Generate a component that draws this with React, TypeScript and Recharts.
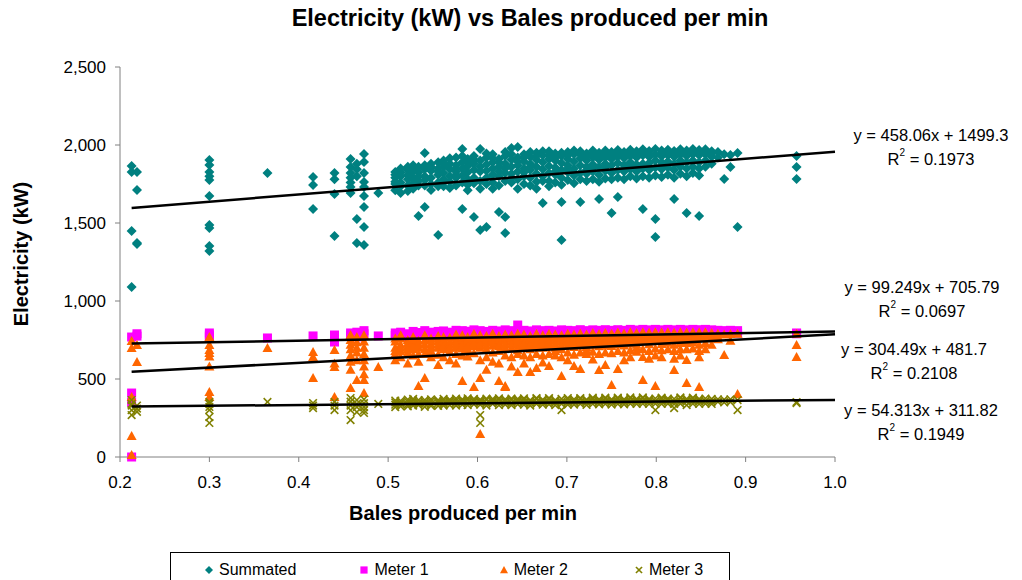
import React from 'react';
import { ScatterChart, Scatter, XAxis, YAxis, LabelList } from 'recharts';

const FONT = "'Liberation Sans', Arial, sans-serif";

// one entry per column of readings (bales produced per min)
const balesPerMin = [
  0.213, 0.219, 0.3, 0.365, 0.416, 0.44, 0.458, 0.465, 0.473, 0.489,
  0.508, 0.514, 0.522, 0.528, 0.534, 0.541, 0.548, 0.556, 0.562, 0.569,
  0.576, 0.583, 0.589, 0.596, 0.603, 0.61, 0.617, 0.624, 0.631, 0.638,
  0.645, 0.652, 0.659, 0.666, 0.673, 0.68, 0.687, 0.694, 0.701, 0.708,
  0.715, 0.722, 0.729, 0.736, 0.743, 0.75, 0.757, 0.764, 0.771, 0.778,
  0.785, 0.792, 0.799, 0.806, 0.813, 0.82, 0.827, 0.834, 0.841, 0.848,
  0.855, 0.862, 0.869, 0.876, 0.883, 0.891, 0.957,
];

// electricity readings (kW) for each column above
const summatedKW: number[][] = [
  [1865, 1827, 1449, 1090], [1827, 1711, 1372, 1365],
  [1904, 1872, 1827, 1800, 1775, 1673, 1487, 1468, 1353, 1321], [1820],
  [1795, 1744, 1590], [1820, 1780, 1686, 1417], [1910, 1859, 1820, 1790, 1760, 1730, 1692],
  [1880, 1845, 1800, 1526, 1372], [1942, 1891, 1820, 1763, 1731, 1673, 1603, 1474, 1359], [1692],
  [1827, 1790, 1750, 1710, 1810, 1765], [1850, 1800, 1760, 1692, 1825, 1735],
  [1840, 1810, 1780, 1740, 1860, 1705], [1870, 1830, 1790, 1755, 1720, 1850],
  [1860, 1825, 1545, 1770, 1800, 1740], [1949, 1845, 1800, 1603, 1740, 1870, 1775],
  [1880, 1835, 1790, 1750, 1860, 1712], [1890, 1850, 1810, 1760, 1423, 1830, 1735],
  [1900, 1860, 1820, 1780, 1735, 1880], [1880, 1845, 1800, 1765, 1915, 1725],
  [1920, 1870, 1830, 1790, 1740, 1850, 1810], [1974, 1890, 1850, 1805, 1590, 1930, 1760],
  [1910, 1865, 1825, 1780, 1745, 1890, 1710], [1930, 1880, 1840, 1538, 1790, 1905, 1755],
  [1974, 1900, 1860, 1455, 1770, 1720, 1830], [1920, 1875, 1835, 1474, 1790, 1945, 1750],
  [1940, 1890, 1850, 1810, 1760, 1915, 1720], [1910, 1860, 1570, 1800, 1740, 1890, 1830],
  [1930, 1880, 1436, 1538, 1820, 1770, 1955, 1850], [1980, 1905, 1860, 1815, 1760, 1940, 1790],
  [1987, 1920, 1870, 1830, 1780, 1720, 1895], [1940, 1895, 1850, 1800, 1750, 1920, 1825],
  [1925, 1880, 1840, 1790, 1740, 1955, 1860], [1950, 1905, 1860, 1815, 1765, 1930, 1720],
  [1935, 1890, 1845, 1800, 1628, 1960, 1770], [1960, 1910, 1865, 1820, 1770, 1935, 1735],
  [1945, 1900, 1855, 1810, 1760, 1920, 1830], [1930, 1885, 1840, 1635, 1391, 1790, 1950, 1745],
  [1955, 1910, 1870, 1825, 1775, 1935, 1850], [1940, 1895, 1850, 1805, 1755, 1965, 1825],
  [1960, 1915, 1870, 1635, 1820, 1940, 1780], [1945, 1900, 1860, 1815, 1770, 1925, 1840],
  [1965, 1920, 1875, 1830, 1780, 1945, 1850], [1950, 1905, 1860, 1654, 1810, 1930, 1765],
  [1965, 1920, 1880, 1835, 1785, 1945, 1855], [1955, 1910, 1870, 1564, 1820, 1935, 1780],
  [1968, 1925, 1885, 1667, 1840, 1790, 1945], [1955, 1915, 1870, 1830, 1780, 1935, 1850],
  [1970, 1930, 1890, 1845, 1800, 1950, 1865], [1960, 1920, 1875, 1830, 1785, 1940, 1855],
  [1972, 1935, 1590, 1850, 1800, 1955, 1880], [1962, 1925, 1885, 1840, 1790, 1945, 1860],
  [1975, 1938, 1526, 1410, 1855, 1805, 1900], [1965, 1928, 1890, 1845, 1795, 1948, 1870],
  [1970, 1935, 1895, 1855, 1810, 1952, 1875], [1962, 1925, 1654, 1840, 1790, 1945, 1880],
  [1972, 1938, 1900, 1860, 1815, 1955, 1880], [1965, 1930, 1564, 1850, 1800, 1948, 1890],
  [1975, 1940, 1900, 1860, 1820, 1958], [1968, 1935, 1545, 1850, 1805, 1950, 1890],
  [1972, 1940, 1900, 1860, 1955], [1960, 1925, 1880, 1945], [1955, 1920], [1940, 1782],
  [1936, 1859], [1949, 1474], [1930, 1859, 1782],
];

const meter1KW: number[][] = [
  [769, 410, 350, 0], [790, 775], [795, 782, 770], [763], [776], [782, 760, 737], [795, 780],
  [800, 770], [810, 790], [776],
  [795, 780], [800, 775], [790, 772], [805, 785], [798, 780], [810, 790], [800, 778], [805, 785],
  [808, 790], [800, 782], [812, 792], [810, 788], [806, 790], [815, 795], [810, 788], [805, 792],
  [812, 795], [808, 790], [815, 796], [810, 792], [846, 805, 788], [812, 795], [808, 790],
  [815, 798], [810, 792], [812, 795], [808, 790], [815, 797], [812, 795], [810, 792], [816, 798],
  [810, 795], [815, 798], [812, 795], [816, 798], [812, 796], [816, 800], [812, 796], [818, 800],
  [814, 797], [818, 800], [815, 798], [818, 800], [815, 798], [818, 800], [815, 797], [818, 800],
  [815, 798], [818, 800], [816, 798], [818, 800], [815, 798], [812, 796], [810, 795], [812, 796],
  [810, 794], [795, 790],
];

const meter2KW: number[][] = [
  [743, 699, 385, 135, 13], [718, 609], [770, 718, 686, 667, 645, 580, 417, 385], [699],
  [673, 641, 506], [686, 600, 577, 385], [782, 750, 720, 690, 650, 610, 560, 442],
  [770, 735, 700, 670, 620, 494], [780, 740, 700, 660, 620, 580, 530, 494, 410], [577],
  [740, 700, 660, 620, 760, 680], [760, 720, 680, 640, 780, 700], [750, 710, 670, 600, 730, 690],
  [770, 735, 690, 650, 710, 755], [745, 700, 455, 610, 725, 660], [780, 720, 506, 660, 750, 690],
  [760, 725, 680, 640, 705, 745], [775, 740, 700, 655, 590, 720, 760], [770, 730, 690, 640, 750, 710],
  [765, 720, 675, 620, 740, 700], [785, 745, 700, 660, 600, 765, 725], [780, 735, 695, 487, 755, 715, 650],
  [770, 730, 690, 645, 750, 710], [790, 750, 710, 449, 665, 770, 730],
  [780, 740, 700, 506, 147, 620, 760, 720], [775, 735, 690, 560, 640, 755, 715],
  [790, 750, 715, 670, 610, 770, 735], [775, 730, 487, 680, 600, 755, 710],
  [785, 745, 449, 455, 700, 650, 765, 725], [780, 740, 695, 640, 580, 760, 720],
  [790, 750, 705, 660, 545, 770, 730, 685], [785, 745, 700, 650, 600, 765, 725],
  [775, 735, 690, 545, 640, 755, 715], [790, 750, 710, 570, 660, 770, 730],
  [780, 740, 700, 650, 605, 760, 720], [790, 750, 710, 583, 660, 770, 730],
  [785, 745, 700, 650, 765, 725, 680], [780, 738, 690, 519, 640, 760, 715],
  [790, 750, 715, 670, 620, 770, 735], [785, 745, 705, 583, 655, 765, 725],
  [792, 755, 715, 564, 670, 775, 735], [785, 748, 705, 660, 768, 728, 685],
  [795, 758, 720, 675, 625, 775, 740], [788, 750, 710, 558, 660, 770, 730],
  [795, 755, 715, 590, 670, 775, 735], [790, 750, 712, 462, 665, 770, 732],
  [798, 760, 722, 564, 680, 780, 740], [792, 755, 715, 670, 620, 775, 735],
  [800, 765, 728, 685, 640, 782, 745], [795, 758, 720, 675, 778, 740, 700],
  [800, 765, 494, 690, 641, 782, 745], [796, 760, 722, 680, 630, 778, 740],
  [800, 765, 455, 695, 650, 782, 745], [798, 762, 725, 685, 640, 780, 745],
  [800, 768, 732, 690, 785, 750], [796, 760, 558, 680, 630, 778, 720],
  [800, 768, 730, 690, 650, 785, 750], [798, 762, 474, 622, 690, 780, 730],
  [800, 770, 735, 695, 785, 750], [798, 765, 449, 680, 640, 782, 720],
  [800, 770, 730, 690, 785], [795, 760, 720, 778], [790, 755, 772], [785, 654], [788, 745],
  [790, 404], [790, 718, 641],
];

const meter3KW: number[][] = [
  [365, 340, 300, 269, 330], [330, 290, 310], [353, 340, 321, 301, 256, 218], [353],
  [346, 330, 314], [353, 330, 301], [378, 355, 330, 300, 237], [365, 340, 320, 288],
  [370, 345, 320, 282, 300], [340],
  [350, 335, 320, 362], [360, 340, 325, 348], [355, 338, 368, 325], [362, 345, 330, 372],
  [350, 332, 365, 340], [365, 340, 322, 352], [358, 340, 370, 328], [365, 345, 328, 355],
  [360, 342, 372, 330], [368, 350, 333, 358], [362, 345, 375, 330], [370, 352, 335, 360],
  [365, 348, 376, 332], [372, 355, 338, 362], [368, 350, 269, 218, 335, 358], [365, 345, 330, 374],
  [372, 355, 340, 362], [368, 348, 332, 376], [370, 352, 336, 360], [365, 347, 375, 332],
  [372, 355, 338, 362], [368, 350, 376, 335], [365, 346, 330, 358], [372, 354, 340, 378],
  [368, 350, 335, 360], [370, 352, 338, 378], [365, 348, 332, 358], [372, 355, 301, 340],
  [368, 350, 378, 335], [370, 352, 336, 360], [372, 355, 340, 378], [368, 350, 334, 360],
  [372, 356, 340, 380], [370, 352, 338, 362], [374, 356, 340, 380], [370, 352, 336, 362],
  [374, 357, 340, 380], [370, 352, 338, 362], [375, 358, 342, 382], [372, 355, 340, 364],
  [376, 358, 342, 382], [372, 355, 340, 364], [375, 358, 301, 342], [372, 356, 340, 380],
  [375, 358, 342, 365], [372, 355, 314, 340], [376, 358, 342, 382], [372, 355, 333, 362],
  [375, 358, 342, 380], [372, 356, 340, 362], [375, 358, 342], [372, 355, 340], [370, 354],
  [368, 350], [370, 352], [365, 301], [346, 352],
];

// linear trendlines as printed on the chart
const trendSlope = [458.06, 99.249, 304.49, 54.313];
const trendIntercept = [1499.3, 705.79, 481.7, 311.82];
const trendR2 = ['0.1973', '0.0697', '0.2108', '0.1949'];
const trendRange = [0.213, 1.0];

const xTicks = [0.2, 0.3, 0.4, 0.5, 0.6, 0.7, 0.8, 0.9, 1.0];
const yTicks = [0, 500, 1000, 1500, 2000, 2500];
const seriesNames = ['Summated', 'Meter 1', 'Meter 2', 'Meter 3'];
const seriesColors = ['#008080', '#FF00FF', '#FF6600', '#808000'];

// where each equation sits relative to the right end of its trendline
const eqOffset = [
  { dx: 96, dy: -17 },
  { dx: 87, dy: -44 },
  { dx: 79, dy: 15 },
  { dx: 86, dy: 10 },
];
const legendGap = [0, 63, 70, 66];

const toPoints = (cols: number[][]) =>
  cols.flatMap((ys, i) => ys.map((y) => ({ x: balesPerMin[i], y })));

const seriesData = [summatedKW, meter1KW, meter2KW, meter3KW].map(toPoints);

const trendData = trendSlope.map((m, i) =>
  trendRange.map((x) => ({ x, y: m * x + trendIntercept[i] }))
);

const Marker = ({ kind, cx, cy, s = 1 }: { kind: number; cx: number; cy: number; s?: number }) => {
  const c = seriesColors[kind];
  if (kind === 0) {
    const r = 5 * s;
    return <polygon points={`${cx},${cy - r} ${cx + r},${cy} ${cx},${cy + r} ${cx - r},${cy}`} fill={c} />;
  }
  if (kind === 1) {
    const h = 4.5 * s;
    return <rect x={cx - h} y={cy - h} width={h * 2} height={h * 2} fill={c} />;
  }
  if (kind === 2) {
    const w = 5 * s;
    return <polygon points={`${cx},${cy - w} ${cx + w},${cy + w * 0.8} ${cx - w},${cy + w * 0.8}`} fill={c} />;
  }
  const d = 3.8 * s;
  return (
    <g stroke={c} strokeWidth={1.6}>
      <line x1={cx - d} y1={cy - d} x2={cx + d} y2={cy + d} />
      <line x1={cx - d} y1={cy + d} x2={cx + d} y2={cy - d} />
    </g>
  );
};

const renderEquation = (i: number) => (props: any) => {
  if (props.index !== 1) return null;
  const vb = props.viewBox || props;
  const cx = (vb.x ?? props.x) + (vb.width ?? 0) / 2;
  const cy = (vb.y ?? props.y) + (vb.height ?? 0) / 2;
  const tx = cx + eqOffset[i].dx;
  const ty = cy + eqOffset[i].dy;
  return (
    <g fontFamily={FONT} fontSize={16.5} fill="#000" textAnchor="middle">
      <text x={tx} y={ty} dominantBaseline="central">
        {`y = ${trendSlope[i]}x + ${trendIntercept[i]}`}
      </text>
      <text x={tx} y={ty + 24} dominantBaseline="central">
        <tspan>R</tspan>
        <tspan dy={-7} fontSize={10}>2</tspan>
        <tspan dy={7}>{` = ${trendR2[i]}`}</tspan>
      </text>
    </g>
  );
};

export default function App() {
  return (
    <div
      style={{
        position: 'absolute',
        left: 0,
        top: 0,
        width: 1022,
        height: 580,
        overflow: 'hidden',
        background: '#fff',
        fontFamily: FONT,
      }}
    >
      <div
        style={{
          position: 'absolute',
          left: 530,
          top: 18,
          transform: 'translate(-50%, -50%)',
          fontSize: 23.5,
          fontWeight: 'bold',
          whiteSpace: 'nowrap',
        }}
      >
        Electricity (kW) vs Bales produced per min
      </div>

      <ScatterChart width={1022} height={580} margin={{ top: 67, right: 187, bottom: 93, left: 0 }}>
        <XAxis
          type="number"
          dataKey="x"
          domain={[0.2, 1.0]}
          ticks={xTicks}
          tickFormatter={(v: number) => v.toFixed(1)}
          stroke="#808080"
          height={30}
          tickSize={5}
          tickMargin={14}
          tick={{ fill: '#000', fontSize: 17, fontFamily: FONT }}
        />
        <YAxis
          type="number"
          dataKey="y"
          domain={[0, 2500]}
          ticks={yTicks}
          tickFormatter={(v: number) => v.toLocaleString('en-US')}
          stroke="#808080"
          width={120}
          tickSize={5}
          tickMargin={9}
          tick={{ fill: '#000', fontSize: 17, fontFamily: FONT }}
        />
        {seriesData.map((pts, i) => (
          <Scatter
            key={seriesNames[i]}
            name={seriesNames[i]}
            data={pts}
            isAnimationActive={false}
            shape={(p: any) => <Marker kind={i} cx={p.cx} cy={p.cy} />}
          />
        ))}
        {trendData.map((pts, i) => (
          <Scatter
            key={`trend-${i}`}
            data={pts}
            isAnimationActive={false}
            line={{ stroke: '#000', strokeWidth: 2.5 }}
            shape={() => <g />}
            legendType="none"
          >
            <LabelList dataKey="y" content={renderEquation(i)} />
          </Scatter>
        ))}
      </ScatterChart>

      <div
        style={{
          position: 'absolute',
          left: 21,
          top: 254,
          transform: 'translate(-50%, -50%) rotate(-90deg)',
          fontSize: 20,
          fontWeight: 'bold',
          whiteSpace: 'nowrap',
        }}
      >
        Electricity (kW)
      </div>
      <div
        style={{
          position: 'absolute',
          left: 463,
          top: 513,
          transform: 'translate(-50%, -50%)',
          fontSize: 20,
          fontWeight: 'bold',
          whiteSpace: 'nowrap',
        }}
      >
        Bales produced per min
      </div>

      {/* legend */}
      <div
        style={{
          position: 'absolute',
          left: 170,
          top: 552,
          width: 560,
          height: 40,
          border: '1px solid #000',
          boxSizing: 'border-box',
          display: 'flex',
          alignItems: 'flex-start',
          paddingLeft: 33,
          paddingTop: 7,
          fontSize: 16,
          lineHeight: '20px',
        }}
      >
        {seriesNames.map((name, i) => (
          <div key={name} style={{ display: 'flex', alignItems: 'center', marginLeft: legendGap[i] }}>
            <svg width={10} height={20} style={{ marginRight: 5 }}>
              <Marker kind={i} cx={5} cy={10} s={0.8} />
            </svg>
            <span>{name}</span>
          </div>
        ))}
      </div>
    </div>
  );
}
